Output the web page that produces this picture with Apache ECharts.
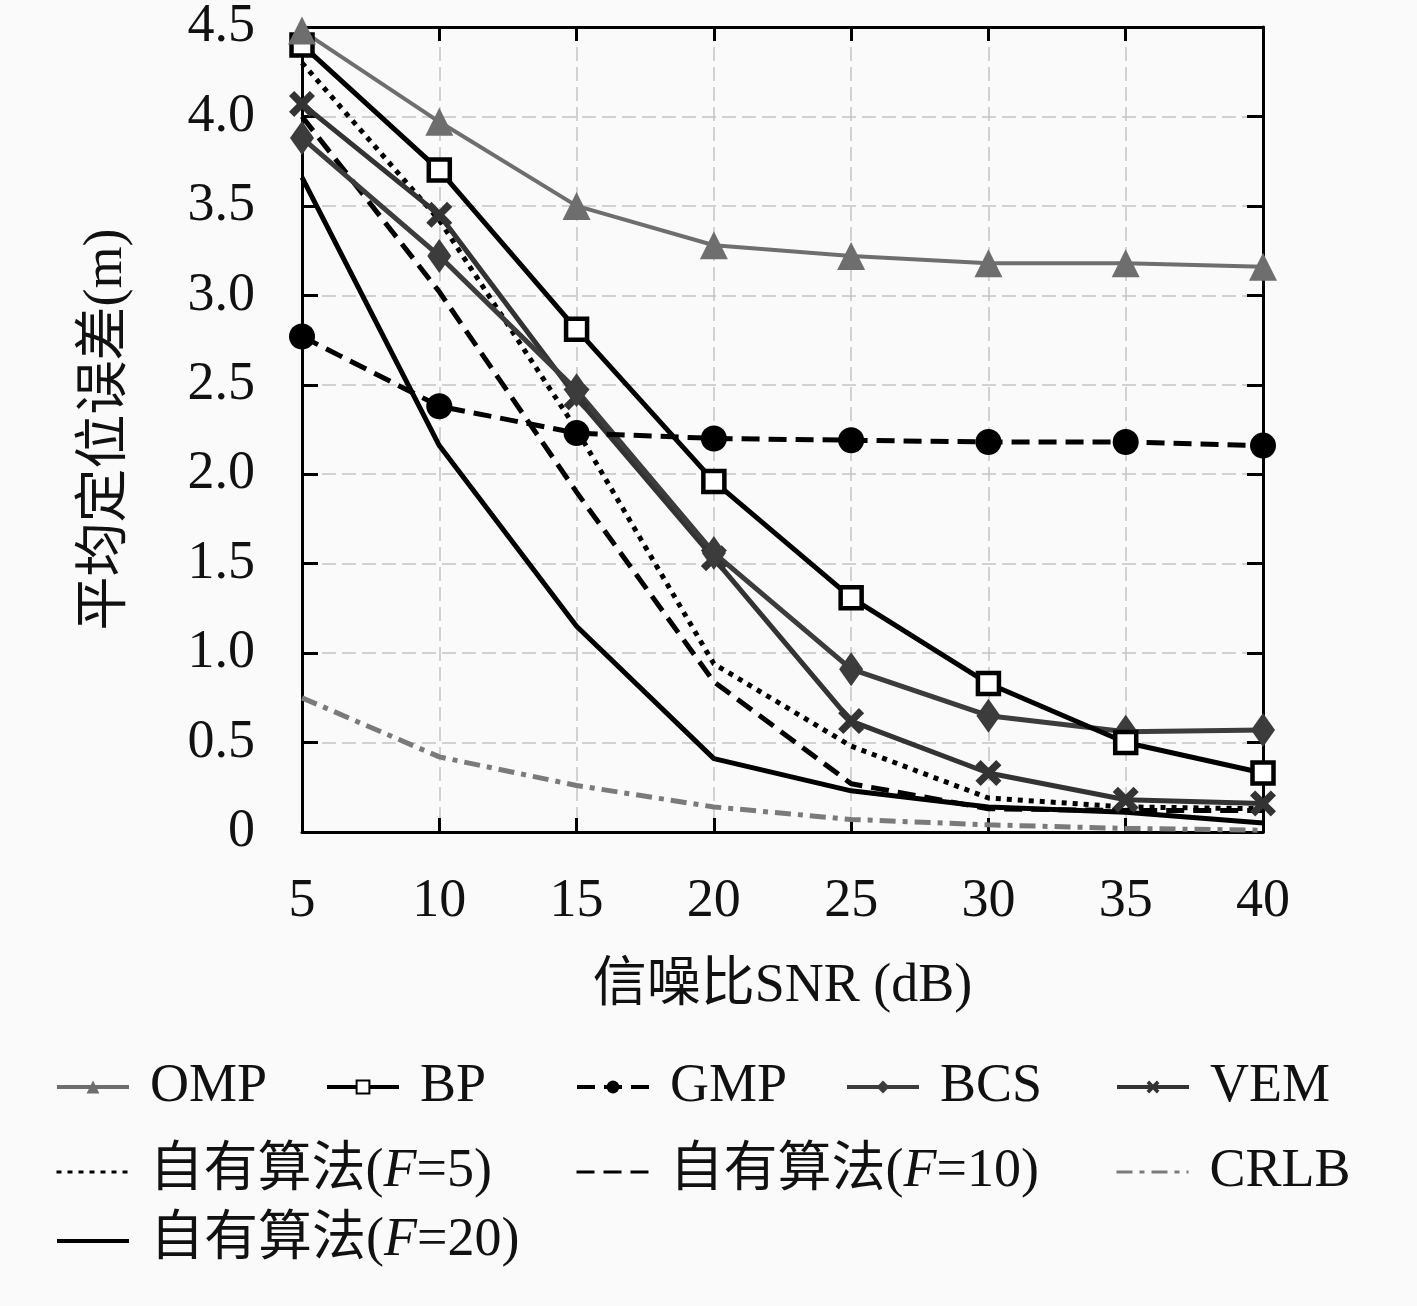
<!DOCTYPE html>
<html>
<head>
<meta charset="utf-8">
<script src="https://cdn.jsdelivr.net/npm/echarts@6/dist/echarts.min.js"></script>
<style>
  html, body { margin: 0; padding: 0; background: #fafafa; }
  #main { width: 1417px; height: 1306px; }
</style>
</head>
<body>
<div id="main"></div>
<script>
const chartDom = document.getElementById("main");
const myChart = echarts.init(chartDom);

// SNR (dB) 横轴
const snr = [5, 10, 15, 20, 25, 30, 35, 40];
// 各算法平均定位误差 (m)
const omp = [4.48, 3.97, 3.5, 3.28, 3.22, 3.18, 3.18, 3.16];
const bp = [4.4, 3.7, 2.81, 1.96, 1.31, 0.83, 0.5, 0.33];
const gmp = [2.77, 2.38, 2.23, 2.2, 2.19, 2.18, 2.18, 2.16];
const bcs = [3.88, 3.22, 2.47, 1.56, 0.91, 0.65, 0.56, 0.57];
const vem = [4.07, 3.45, 2.43, 1.53, 0.62, 0.33, 0.18, 0.16];
const f5 = [4.3, 3.42, 2.25, 0.94, 0.48, 0.19, 0.14, 0.13];
const f10 = [4.0, 3.02, 1.9, 0.84, 0.27, 0.13, 0.12, 0.12];
const crlb = [0.75, 0.42, 0.26, 0.14, 0.07, 0.04, 0.02, 0.01];
const f20 = [3.66, 2.16, 1.15, 0.41, 0.23, 0.14, 0.11, 0.05];

const FONT = "'Liberation Serif', 'Noto Sans CJK SC', serif";
const FS = 54;
const pairs = (arr) => arr.map((v, i) => [snr[i], v]);

// 叉号标记
const crossSym =
  "path://M2,0 L5,3 L8,0 L10,2 L7,5 L10,8 L8,10 L5,7 L2,10 L0,8 L3,5 L0,2 Z";

// 图例：每项单独定位；无标记的线隐藏图例符号
const mkLegend = (name, left, top, noSymbol, lw) => ({
  data: [noSymbol ? { name: name, itemStyle: { opacity: 0 } } : name],
  left: left,
  top: top,
  itemWidth: 72,
  itemHeight: 16,
  padding: 0,
  lineStyle: { width: lw || 4 },
  formatter: function (n) {
    const m = n.match(/^(.*)\(F=(\d+)\)$/);
    if (m) return m[1] + "({i|F}=" + m[2] + ")";
    return n;
  },
  textStyle: {
    fontFamily: FONT,
    fontSize: FS,
    color: "#111",
    padding: [0, 0, 0, 16],
    rich: {
      i: { fontFamily: FONT, fontSize: FS, fontStyle: "italic", color: "#111" },
    },
  },
});

let option = {
  backgroundColor: "#fafafa",
  animation: false,
  textStyle: { fontFamily: FONT },
  grid: { left: 302, right: 154, top: 25, bottom: 474 },
  legend: [
    mkLegend("OMP", 55, 1060),
    mkLegend("BP", 325, 1060),
    mkLegend("GMP", 575, 1060),
    mkLegend("BCS", 845, 1060),
    mkLegend("VEM", 1115, 1060),
    mkLegend("自有算法(F=5)", 55, 1145, true, 3),
    mkLegend("自有算法(F=10)", 575, 1145, true, 3),
    mkLegend("CRLB", 1115, 1145, true, 3),
    mkLegend("自有算法(F=20)", 55, 1214, true, 4),
  ],
  xAxis: [
    {
      type: "value",
      min: 5,
      max: 40,
      interval: 5,
      name: "信噪比SNR (dB)",
      nameLocation: "middle",
      nameGap: 128,
      nameTextStyle: { fontFamily: FONT, fontSize: FS, color: "#111" },
      axisLine: { onZero: false, lineStyle: { color: "#000", width: 3 } },
      axisTick: { inside: true, length: 14, lineStyle: { color: "#000", width: 3 } },
      axisLabel: { margin: 43, fontFamily: FONT, fontSize: FS, color: "#111" },
      splitLine: { show: true, lineStyle: { color: "#c4c4c4", width: 1.5, type: [14, 6] } },
    },
    {
      type: "value",
      position: "top",
      min: 5,
      max: 40,
      interval: 5,
      axisLine: { onZero: false, lineStyle: { color: "#000", width: 3 } },
      axisTick: { inside: true, length: 14, lineStyle: { color: "#000", width: 3 } },
      axisLabel: { show: false },
      splitLine: { show: false },
    },
  ],
  yAxis: [
    {
      type: "value",
      min: 0,
      max: 4.5,
      interval: 0.5,
      name: "平均定位误差(m)",
      nameLocation: "middle",
      nameGap: 168,
      nameTextStyle: { fontFamily: FONT, fontSize: FS, color: "#111" },
      axisLine: { show: true, onZero: false, lineStyle: { color: "#000", width: 3 } },
      axisTick: { show: true, inside: true, length: 16, lineStyle: { color: "#000", width: 3 } },
      axisLabel: {
        margin: 47,
        fontFamily: FONT,
        fontSize: FS,
        color: "#111",
        formatter: (v) => (v === 0 ? "0" : v.toFixed(1)),
      },
      splitLine: { show: true, lineStyle: { color: "#c4c4c4", width: 1.5, type: [14, 6] } },
    },
    {
      type: "value",
      position: "right",
      min: 0,
      max: 4.5,
      interval: 0.5,
      axisLine: { show: true, onZero: false, lineStyle: { color: "#000", width: 3 } },
      axisTick: { show: true, inside: true, length: 16, lineStyle: { color: "#000", width: 3 } },
      axisLabel: { show: false },
      splitLine: { show: false },
    },
  ],
  series: [
    {
      name: "CRLB",
      type: "line",
      data: pairs(crlb),
      symbol: "none",
      color: "#7a7a7a",
      lineStyle: { color: "#7a7a7a", width: 5, type: [16, 7, 5, 7] },
    },
    {
      name: "自有算法(F=20)",
      type: "line",
      data: pairs(f20),
      symbol: "none",
      color: "#000",
      lineStyle: { color: "#000", width: 5 },
    },
    {
      name: "自有算法(F=10)",
      type: "line",
      data: pairs(f10),
      symbol: "none",
      color: "#000",
      lineStyle: { color: "#000", width: 5, type: [18, 9] },
    },
    {
      name: "自有算法(F=5)",
      type: "line",
      data: pairs(f5),
      symbol: "none",
      color: "#000",
      lineStyle: { color: "#000", width: 5, type: [5, 6] },
    },
    {
      name: "VEM",
      type: "line",
      data: pairs(vem),
      symbol: crossSym,
      symbolSize: 26,
      color: "#333",
      itemStyle: { color: "#333" },
      lineStyle: { color: "#333", width: 5 },
    },
    {
      name: "BCS",
      type: "line",
      data: pairs(bcs),
      symbol: "diamond",
      symbolSize: [24, 34],
      color: "#3c3c3c",
      itemStyle: { color: "#3c3c3c" },
      lineStyle: { color: "#3c3c3c", width: 5 },
    },
    {
      name: "GMP",
      type: "line",
      data: pairs(gmp),
      symbol: "circle",
      symbolSize: 26,
      color: "#000",
      itemStyle: { color: "#000" },
      lineStyle: { color: "#000", width: 5, type: [18, 9] },
    },
    {
      name: "BP",
      type: "line",
      data: pairs(bp),
      symbol: "rect",
      symbolSize: 21,
      color: "#000",
      itemStyle: { color: "#fff", borderColor: "#000", borderWidth: 4.5 },
      lineStyle: { color: "#000", width: 5 },
    },
    {
      name: "OMP",
      type: "line",
      data: pairs(omp),
      symbol: "triangle",
      symbolSize: 28,
      color: "#6e6e6e",
      itemStyle: { color: "#6e6e6e" },
      lineStyle: { color: "#6e6e6e", width: 4 },
    },
  ],
};

myChart.setOption(option);
</script>
</body>
</html>
